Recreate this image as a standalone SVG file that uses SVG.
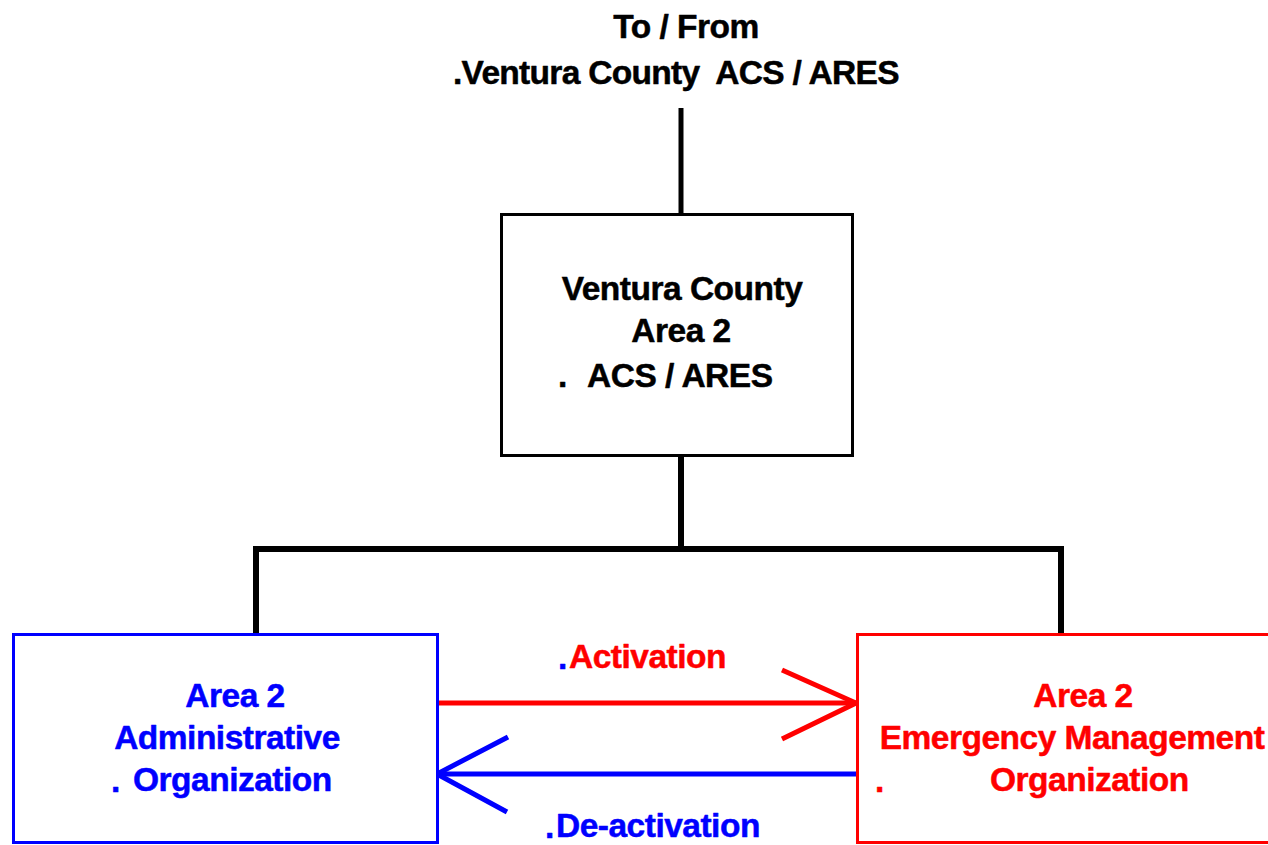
<svg xmlns="http://www.w3.org/2000/svg" width="1268" height="845" viewBox="0 0 1268 845">
<style>
text{font-family:"Liberation Sans",Arial,sans-serif;font-weight:bold;font-size:33.5px;letter-spacing:-0.5px;stroke-width:0.5px;stroke-linejoin:round}
.k{fill:#000;stroke:#000}
.b{fill:#0000FF;stroke:#0000FF}
.r{fill:#FF0000;stroke:#FF0000}
.box{fill:#fff;stroke-width:3}
.conn{stroke:#000;stroke-width:6;fill:none;stroke-linecap:butt}
</style>
<rect width="1268" height="845" fill="#fff"/>
<g id="connectors">
<line class="conn" x1="681" y1="108" x2="681" y2="215" style="stroke-width:5"/>
<line class="conn" x1="681" y1="456" x2="681" y2="549"/>
<polyline class="conn" points="256,635 256,549 1061,549 1061,635"/>
<g id="activation" stroke="#FF0000" stroke-width="5" fill="none">
<line x1="439" y1="703" x2="856" y2="703"/>
<polyline points="782,670 856,703 782,739"/>
</g>
<g id="deactivation" stroke="#0000FF" stroke-width="5" fill="none">
<line x1="858" y1="774" x2="437" y2="774"/>
<polyline points="508,737 437,774 507,812"/>
</g>
<text class="r" x="569" y="668">Activation</text>
<text class="b" x="558" y="669">.</text>
<text class="b" x="556" y="837">De-activation</text>
<text class="b" x="545" y="838">.</text>
</g>
<g id="top-label">
<text class="k" x="686" y="38" text-anchor="middle">To / From</text>
<text class="k" x="453" y="84" xml:space="preserve" style="letter-spacing:-0.7px">.Ventura County  ACS / ARES</text>
</g>
<g id="county-node">
<rect class="box" x="501.5" y="214.5" width="351" height="241" stroke="#000"/>
<text class="k" x="682" y="300" text-anchor="middle">Ventura County</text>
<text class="k" x="681" y="342" text-anchor="middle">Area 2</text>
<text class="k" x="558" y="387">.</text>
<text class="k" x="587" y="387">ACS / ARES</text>
</g>
<g id="admin-node">
<rect class="box" x="13.5" y="634.5" width="424" height="208" stroke="#0000FF"/>
<text class="b" x="235" y="707" text-anchor="middle">Area 2</text>
<text class="b" x="227" y="749" text-anchor="middle">Administrative</text>
<text class="b" x="111" y="792">.</text>
<text class="b" x="133" y="791">Organization</text>
</g>
<g id="emergency-node">
<rect class="box" x="857.5" y="634.5" width="430" height="208" stroke="#FF0000"/>
<text class="r" x="1083" y="707" text-anchor="middle">Area 2</text>
<text class="r" x="1072" y="749" text-anchor="middle">Emergency Management</text>
<text class="r" x="875" y="792">.</text>
<text class="r" x="990" y="791">Organization</text>
</g>
</svg>
